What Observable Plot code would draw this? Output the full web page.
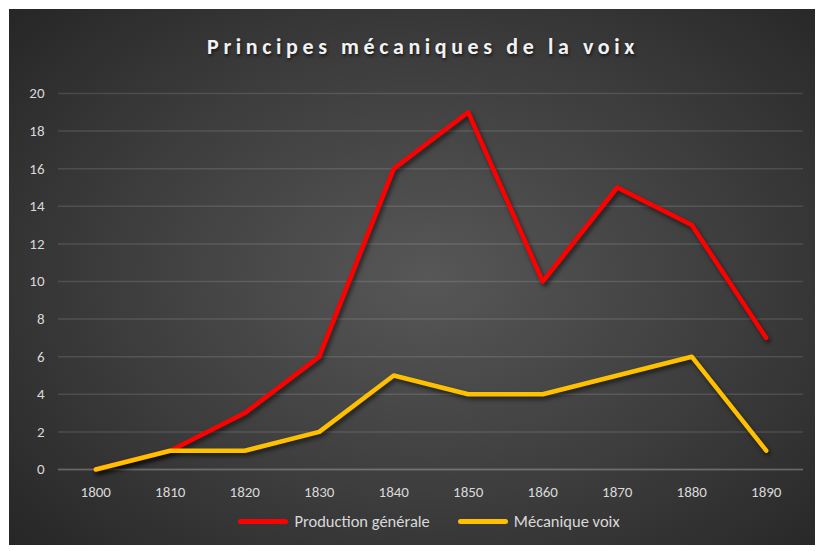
<!DOCTYPE html>
<html>
<head>
<meta charset="utf-8">
<script src="https://cdn.jsdelivr.net/npm/d3@7"></script>
<script src="https://cdn.jsdelivr.net/npm/@observablehq/plot@0.6"></script>
<style>
  html, body { margin: 0; padding: 0; background: #ffffff; }
  #box {
    position: absolute; left: 9px; top: 9px; width: 806px; height: 536px;
    background: radial-gradient(ellipse 70% 75% at 52% 50%, #575757 0%, #3d3d3d 55%, #262626 100%);
    font-family: Carlito, Lato, "Open Sans", sans-serif;
    overflow: hidden;
  }
  #title {
    height: 64px; line-height: 76px; text-align: center; color: #f2f2f2;
    font-size: 22px; font-weight: bold; letter-spacing: 4.6px; padding-left: 22px;
    text-shadow: 1px 2px 3px rgba(0,0,0,0.6);
  }
  #legend {
    display: flex; justify-content: center; align-items: center; gap: 28px;
    color: #d9d9d9; font-size: 16.5px; margin-top: 11px; padding-left: 34px;
  }
  .item { display: flex; align-items: center; gap: 6px; }
  .sw { width: 50px; height: 5px; border-radius: 3px; }
  #chart svg text { font-size: 15px !important; }
  #chart svg g[aria-label="line"] path { filter: drop-shadow(2px 3px 2px rgba(0,0,0,0.55)); }
</style>
</head>
<body>
<div id="box">
  <div id="title">Principes mécaniques de la voix</div>
  <div id="chart"></div>
  <div id="legend"></div>
</div>
<script>
const years = [1800, 1810, 1820, 1830, 1840, 1850, 1860, 1870, 1880, 1890];
const productionGenerale = [0, 1, 3, 6, 16, 19, 10, 15, 13, 7];
const mecaniqueVoix = [0, 1, 1, 2, 5, 4, 4, 5, 6, 1];
const seriesNames = ["Production générale", "Mécanique voix"];
const seriesColors = ["#ff0000", "#ffc000"];
const yTicks = [0, 2, 4, 6, 8, 10, 12, 14, 16, 18, 20];

const data = [];
years.forEach((y, i) => {
  data.push({year: y, value: productionGenerale[i], series: seriesNames[0]});
  data.push({year: y, value: mecaniqueVoix[i], series: seriesNames[1]});
});

const plot = Plot.plot({
  width: 806,
  height: 427,
  marginLeft: 49,
  marginRight: 12,
  marginTop: 20,
  marginBottom: 31,
  style: {background: "transparent", color: "#d9d9d9", fontSize: "15px", fontFamily: "Carlito, Lato, 'Open Sans', sans-serif"},
  x: {domain: [1795, 1895], axis: null},
  y: {domain: [0, 20], axis: null},
  color: {domain: seriesNames, range: seriesColors},
  marks: [
    Plot.gridY(yTicks, {stroke: "#ffffff", strokeOpacity: 0.12, strokeWidth: 1.5}),
    Plot.ruleY([0], {stroke: "#ffffff", strokeOpacity: 0.16, strokeWidth: 2}),
    Plot.axisY(yTicks, {tickSize: 0, tickPadding: 14, fill: "#d9d9d9", label: null, tickFormat: d => String(d)}),
    Plot.axisX(years, {tickSize: 0, tickPadding: 17, fill: "#d9d9d9", label: null, tickFormat: d => String(d)}),
    Plot.line(data, {x: "year", y: "value", z: "series", stroke: "series", strokeWidth: 4.5, strokeLinejoin: "round", strokeLinecap: "round"})
  ]
});
document.getElementById("chart").appendChild(plot);

const legend = document.getElementById("legend");
seriesNames.forEach((n, i) => {
  const it = document.createElement("div");
  it.className = "item";
  it.innerHTML = `<span class="sw" style="background:${seriesColors[i]}"></span><span>${n}</span>`;
  legend.appendChild(it);
});
</script>
</body>
</html>
